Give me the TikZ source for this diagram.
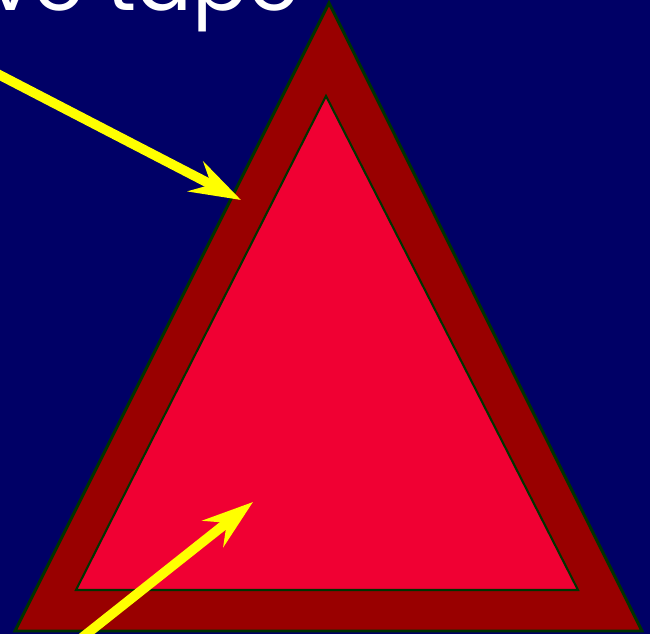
\documentclass[tikz,border=0pt]{standalone}
\usepackage{fontspec}
\setmainfont{Poppins}
\usetikzlibrary{arrows.meta}
\definecolor{bgblue}{RGB}{0,0,102}
\definecolor{outerred}{RGB}{153,0,0}
\definecolor{innerred}{RGB}{240,0,51}
\definecolor{rimgreen}{RGB}{0,51,0}
\definecolor{arrowyellow}{RGB}{255,255,0}

\begin{document}
\begin{tikzpicture}[x=0.02cm,y=-0.02cm,
                    every node/.style={text=white,inner sep=0pt,font=\fontsize{47}{47}\selectfont},
                    pointer/.style={draw=arrowyellow,line width=5.5pt,
                                    -{Stealth[length=29pt,width=19pt,inset=10pt]}}]
  \fill[bgblue] (0,0) rectangle (650,634);
  \useasboundingbox (0,0) rectangle (650,634);
  \clip (0,0) rectangle (650,634);
  \filldraw[fill=outerred,draw=rimgreen,line width=1.7pt] (329,3) -- (642,631) -- (15,631) -- cycle;
  \filldraw[fill=innerred,draw=rimgreen,line width=1.2pt] (326,96) -- (578,590) -- (76,590) -- cycle;
  \node[anchor=base east] (caption) at (300,11) {ve tape};
  \coordinate (tailA) at (-10,70);
  \coordinate (tipA)  at (241,200);
  \coordinate (tailB) at (74,644);
  \coordinate (tipB)  at (253,502);
  \draw[pointer] (tailA) -- (tipA);
  \draw[pointer] (tailB) -- (tipB);
\end{tikzpicture}
\end{document}
